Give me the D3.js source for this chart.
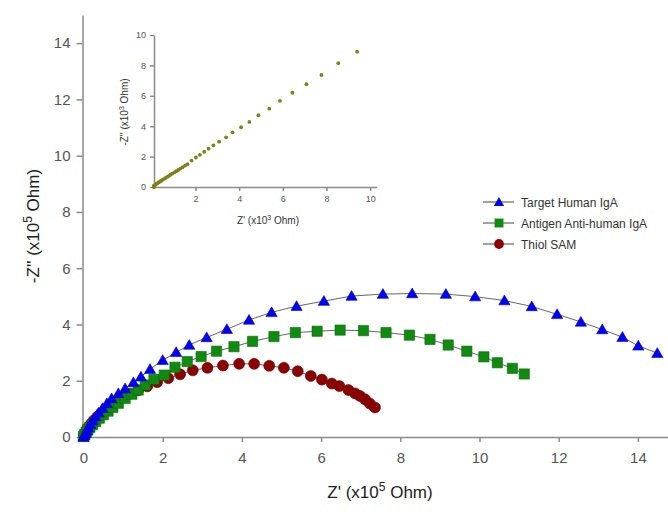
<!DOCTYPE html>
<html>
<head>
<meta charset="utf-8">
<script src="https://cdn.jsdelivr.net/npm/d3@7"></script>
<style>
  body { margin: 0; background: #fff; }
  text { font-family: "Liberation Sans", Arial, sans-serif; }
</style>
</head>
<body>
<div id="chart"></div>
<script>
// main plot data (x10^5 Ohm)
const targetX = [0.00,0.02,0.05,0.08,0.12,0.17,0.23,0.30,0.38,0.48,0.59,0.71,0.88,1.05,1.26,1.45,1.68,2.00,2.34,2.67,3.11,3.62,4.18,4.75,5.38,6.07,6.77,7.56,8.30,9.15,9.89,10.63,11.32,11.96,12.56,13.10,13.61,14.01,14.49];
const targetY = [0.00,0.05,0.13,0.22,0.33,0.45,0.58,0.72,0.86,1.02,1.19,1.37,1.55,1.72,1.94,2.14,2.41,2.73,3.01,3.27,3.54,3.83,4.16,4.43,4.65,4.83,5.01,5.08,5.10,5.08,4.99,4.85,4.64,4.36,4.09,3.82,3.55,3.24,2.98];

const antigenX = [0.00,0.03,0.07,0.11,0.16,0.23,0.31,0.40,0.50,0.62,0.74,0.88,1.05,1.22,1.38,1.56,1.78,2.04,2.31,2.62,2.97,3.36,3.80,4.27,4.81,5.35,5.90,6.48,7.07,7.64,8.23,8.75,9.21,9.68,10.11,10.45,10.83,11.13];
const antigenY = [0.02,0.09,0.17,0.25,0.34,0.44,0.55,0.67,0.79,0.92,1.05,1.20,1.37,1.52,1.67,1.85,2.05,2.20,2.48,2.68,2.86,3.05,3.21,3.40,3.57,3.71,3.76,3.80,3.78,3.71,3.62,3.47,3.27,3.05,2.85,2.64,2.44,2.24];

const thiolX = [0.01,0.04,0.08,0.13,0.19,0.26,0.35,0.45,0.56,0.69,0.83,0.99,1.17,1.38,1.61,1.86,2.14,2.44,2.76,3.13,3.52,3.93,4.31,4.69,5.06,5.41,5.74,6.02,6.27,6.46,6.69,6.86,6.98,7.11,7.23,7.36];
const thiolY = [0.06,0.15,0.25,0.36,0.47,0.59,0.72,0.85,0.98,1.12,1.26,1.40,1.54,1.66,1.80,1.95,2.09,2.23,2.37,2.46,2.54,2.60,2.60,2.53,2.46,2.34,2.17,2.04,1.90,1.81,1.67,1.55,1.46,1.34,1.19,1.05];

// inset data (x10^3 Ohm)
const insetX = [0.00,0.02,0.05,0.08,0.12,0.16,0.21,0.26,0.31,0.37,0.43,0.49,0.56,0.63,0.70,0.78,0.86,0.94,1.03,1.12,1.21,1.31,1.41,1.52,1.63,1.82,2.02,2.20,2.40,2.60,2.82,3.08,3.40,3.70,4.09,4.47,4.88,5.38,5.87,6.44,7.08,7.77,8.54,9.40];
const insetY = [0.00,0.02,0.05,0.08,0.11,0.15,0.20,0.25,0.30,0.35,0.41,0.47,0.53,0.60,0.66,0.73,0.81,0.88,0.96,1.04,1.12,1.21,1.30,1.40,1.50,1.74,1.94,2.12,2.32,2.52,2.74,2.98,3.27,3.60,3.93,4.28,4.72,5.15,5.66,6.20,6.76,7.37,8.14,8.90];

const mainTicks = [0,2,4,6,8,10,12,14];
const insetXTicks = [2,4,6,8,10];
const insetYTicks = [0,2,4,6,8,10];

const legendNames = ["Target Human IgA","Antigen Anti-human IgA","Thiol SAM"];

const width = 668, height = 512;

const svg = d3.select("#chart").append("svg")
  .attr("width", width).attr("height", height)
  .style("background", "#fff");

// scales
const x = d3.scaleLinear().domain([0, 15]).range([83.5, 677.5]);
const y = d3.scaleLinear().domain([0, 15]).range([437, 15]);

const axisColor = "#8a8a8a";
const labelColor = "#555";

function styleAxis(g, size) {
  g.selectAll("path").attr("stroke", axisColor).attr("stroke-width", 1.5);
  g.selectAll("line").attr("stroke", axisColor).attr("stroke-width", 1.5);
  g.selectAll("text").attr("fill", labelColor).attr("font-size", size)
    .attr("font-family", "Liberation Sans, Arial, sans-serif");
}

// main axes
svg.append("g")
  .attr("transform", `translate(0,${y(0)})`)
  .call(d3.axisBottom(x).tickValues(mainTicks).tickSize(5).tickSizeOuter(0).tickPadding(10))
  .call(g => styleAxis(g, 15));

svg.append("g")
  .attr("transform", `translate(${x(0) - 1},0)`)
  .call(d3.axisLeft(y).tickValues(mainTicks).tickSize(6).tickSizeOuter(0).tickPadding(6))
  .call(g => styleAxis(g, 15));

// axis titles
const xt = svg.append("text").attr("x", 380).attr("y", 498)
  .attr("text-anchor", "middle").attr("font-size", 17).attr("fill", "#222");
xt.append("tspan").text("Z' (x10");
xt.append("tspan").attr("dy", -7).attr("font-size", 12).text("5");
xt.append("tspan").attr("dy", 7).text(" Ohm)");

const yt = svg.append("text")
  .attr("transform", "translate(39,226) rotate(-90)")
  .attr("text-anchor", "middle").attr("font-size", 17).attr("fill", "#222");
yt.append("tspan").text("-Z'' (x10");
yt.append("tspan").attr("dy", -7).attr("font-size", 12).text("5");
yt.append("tspan").attr("dy", 7).text(" Ohm)");

// series
const series = [
  { name: legendNames[2], xs: thiolX, ys: thiolY, shape: d3.symbolCircle, size: 95, fill: "#8b0000", stroke: "#6a0000" },
  { name: legendNames[1], xs: antigenX, ys: antigenY, shape: d3.symbolSquare, size: 105, fill: "#108a10", stroke: "#0a6a0a" },
  { name: legendNames[0], xs: targetX, ys: targetY, shape: d3.symbolTriangle, size: 55, fill: "#0000f0", stroke: "#0000c0" }
];

const line = d3.line().x(d => x(d[0])).y(d => y(d[1]));

series.forEach(s => {
  const pts = s.xs.map((v, i) => [v, s.ys[i]]);
  svg.append("path").datum(pts)
    .attr("d", line)
    .attr("fill", "none").attr("stroke", "#666").attr("stroke-width", 1);
  svg.append("g").selectAll("path")
    .data(pts)
    .join("path")
    .attr("transform", d => `translate(${x(d[0])},${y(d[1]) + (s.shape === d3.symbolTriangle ? 1 : 0)})`)
    .attr("d", d3.symbol().type(s.shape).size(s.size))
    .attr("fill", s.fill).attr("stroke", s.stroke).attr("stroke-width", 0.6);
});

// legend
const legendRows = [
  { name: legendNames[0], shape: d3.symbolTriangle, size: 45, fill: "#0000f0" },
  { name: legendNames[1], shape: d3.symbolSquare, size: 80, fill: "#108a10" },
  { name: legendNames[2], shape: d3.symbolCircle, size: 75, fill: "#8b0000" }
];
const legend = svg.append("g");
legendRows.forEach((r, i) => {
  const ly = 202 + i * 21;
  legend.append("line").attr("x1", 483).attr("x2", 514).attr("y1", ly).attr("y2", ly)
    .attr("stroke", "#444").attr("stroke-width", 1);
  legend.append("path").attr("transform", `translate(499,${ly + (i === 0 ? 1 : 0)})`)
    .attr("d", d3.symbol().type(r.shape).size(r.size)).attr("fill", r.fill);
  legend.append("text").attr("x", 521).attr("y", ly + 4.5)
    .attr("font-size", 12).attr("fill", "#333").text(r.name);
});

// inset
const ix = d3.scaleLinear().domain([0.1, 10.3]).range([154, 376.7]);
const iy = d3.scaleLinear().domain([0, 10]).range([187, 35]);

svg.append("g")
  .attr("transform", `translate(0,${iy(0)})`)
  .call(d3.axisBottom(ix).tickValues(insetXTicks).tickSize(4).tickSizeOuter(0).tickPadding(5))
  .call(g => styleAxis(g, 9));

svg.append("g")
  .attr("transform", `translate(${ix(0.1)},0)`)
  .call(d3.axisLeft(iy).tickValues(insetYTicks).tickSize(4).tickSizeOuter(0).tickPadding(4))
  .call(g => styleAxis(g, 9));

svg.append("g").selectAll("circle")
  .data(insetX.map((v, i) => [v, insetY[i]]))
  .join("circle")
  .attr("cx", d => ix(Math.max(d[0], 0.1)))
  .attr("cy", d => iy(d[1]))
  .attr("r", 1.9)
  .attr("fill", "#80801a");

const ixt = svg.append("text").attr("x", 268).attr("y", 224)
  .attr("text-anchor", "middle").attr("font-size", 10).attr("fill", "#333");
ixt.append("tspan").text("Z' (x10");
ixt.append("tspan").attr("dy", -4).attr("font-size", 7).text("3");
ixt.append("tspan").attr("dy", 4).text(" Ohm)");

const iyt = svg.append("text")
  .attr("transform", "translate(128,112) rotate(-90)")
  .attr("text-anchor", "middle").attr("font-size", 10).attr("fill", "#333");
iyt.append("tspan").text("-Z'' (x10");
iyt.append("tspan").attr("dy", -4).attr("font-size", 7).text("3");
iyt.append("tspan").attr("dy", 4).text(" Ohm)");
</script>
</body>
</html>
